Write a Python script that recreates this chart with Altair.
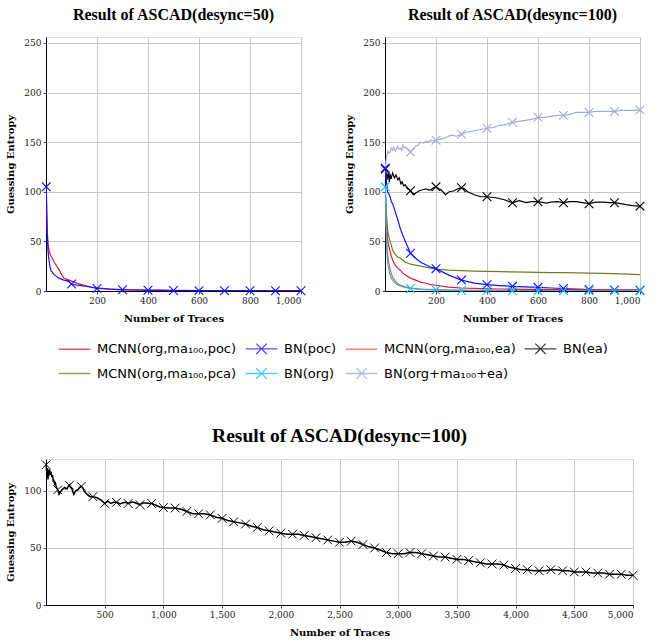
import json
import altair as alt
import pandas as pd

# ---- series names (legend order) ----
MCNN_POC = "MCNN(org,ma₁₀₀,poc)"
BN_POC = "BN(poc)"
MCNN_EA = "MCNN(org,ma₁₀₀,ea)"
BN_EA = "BN(ea)"
MCNN_PCA = "MCNN(org,ma₁₀₀,pca)"
BN_ORG = "BN(org)"
BN_ORG_MA_EA = "BN(org+ma₁₀₀+ea)"

SERIES = [MCNN_POC, BN_POC, MCNN_EA, BN_EA, MCNN_PCA, BN_ORG, BN_ORG_MA_EA]
COLORS = ["#dc1e3c", "#1414ff", "#ff5a36", "#000000", "#6b7f22", "#19b9ea", "#a3acd6"]
MARKED = [BN_POC, BN_EA, BN_ORG, BN_ORG_MA_EA]

# ---- common trace grid for the smooth curves ----
traces = [1, 3, 5, 8, 10, 15, 20, 25, 30, 40, 50, 60, 70, 80, 90, 100, 120, 140,
          160, 180, 200, 250, 300, 350, 400, 450, 500, 550, 600, 650, 700, 750,
          800, 850, 900, 950, 1000]

# ASCAD desync=50
d50_mcnn_poc = [105, 80, 60, 48, 44, 38, 35, 33, 30, 26, 22, 17, 13, 12, 11, 10, 8,
                6.5, 5, 4, 3.2, 2, 1.5, 1.2, 1, 0.8, 0.7, 0.6, 0.5, 0.5, 0.4, 0.4,
                0.3, 0.3, 0.3, 0.3, 0.3]
d50_bn_poc = [105, 75, 55, 40, 35, 25, 20, 19, 17, 15, 13, 12, 11, 10.5, 9.5, 7, 6,
              5.5, 4.5, 3.5, 2.5, 1.8, 1.2, 1, 0.7, 0.6, 0.5, 0.4, 0.4, 0.3, 0.3,
              0.3, 0.3, 0.2, 0.2, 0.2, 0.2]

# ASCAD desync=100
d100_mcnn_poc = [105, 90, 75, 60, 52, 45, 40, 35, 31, 26, 23, 21, 18, 16, 14.5, 13,
                 11, 9, 7.8, 6.5, 5.8, 4, 3, 2.6, 2.2, 2, 1.8, 1.7, 1.6, 1.5, 1.4,
                 1.3, 1.2, 1.2, 1.1, 1, 1]
d100_mcnn_pca = [105, 90, 80, 68, 62, 55, 50, 46, 41, 37, 34, 33, 31, 29, 28, 27, 26,
                 25, 24, 23, 22, 21, 20.5, 20, 19.7, 19.5, 19.2, 19, 18.8, 18.6,
                 18.5, 18.2, 18, 17.8, 17.5, 17, 16.5]
d100_mcnn_ea = [105, 85, 65, 45, 38, 28, 22, 17, 14, 10, 7.5, 6, 5, 4.3, 3.6, 3, 2.5,
                2, 1.7, 1.5, 1.3, 1, 0.8, 0.7, 0.6, 0.5, 0.5, 0.4, 0.4, 0.4, 0.3,
                0.3, 0.3, 0.3, 0.3, 0.3, 0.3]
d100_bn_org = [105, 80, 55, 38, 30, 22, 16, 13, 11, 8, 6, 5, 4, 3.5, 3, 2.5, 2, 1.6,
               1.3, 1.1, 1, 0.7, 0.5, 0.4, 0.4, 0.3, 0.3, 0.3, 0.3, 0.2, 0.2, 0.2,
               0.2, 0.2, 0.2, 0.2, 0.2]
d100_bn_poc = [124, 118, 112, 105, 100, 98, 95, 90, 88, 80, 72, 63, 56, 50, 44, 38,
               33, 29, 26.5, 24, 22.5, 16, 11, 8, 6.4, 5.5, 4.7, 4.2, 3.7, 3, 2.5,
               2, 1.5, 1.2, 1, 0.9, 0.8]

lav_x = [1, 4, 8, 12, 16, 20, 25, 30, 35, 40, 45, 50, 55, 60, 65, 70, 75, 80, 90,
         100, 110, 120, 130, 140, 150, 160, 170, 180, 190, 200, 220, 240, 260, 280,
         300, 320, 340, 360, 380, 400, 425, 450, 475, 500, 525, 550, 575, 600, 625,
         650, 675, 700, 725, 750, 775, 800, 825, 850, 875, 900, 925, 950, 975, 1000]
lav_y = [123, 132, 137, 141, 139, 140, 144, 142, 145, 141, 143, 146, 143, 144, 142,
         147, 144, 145, 143, 140, 143, 146, 147, 150, 149, 151, 150, 152, 151, 152,
         153, 155, 157, 156, 158, 160, 161, 162, 163, 164, 165, 167, 168, 170, 171,
         172, 173, 175, 175, 176, 177, 177, 178, 180, 180, 180, 181, 181, 181, 181,
         182, 182, 182, 182.5]

# BN(ea), desync=100, traced out to 5000 traces
ea_x = [1, 4, 8, 13, 17, 20, 24, 30, 37, 43, 50, 56, 62, 67, 73, 80, 88, 95, 100,
        111, 122, 135, 148, 160, 170, 180, 190, 200, 210, 220, 237, 252, 272, 285,
        300, 312, 324, 350, 376, 400, 435, 468, 500, 527, 553, 575, 600, 632, 650,
        675, 700, 725, 749, 775, 800, 827, 854, 880, 900, 925, 945, 970, 1000,
        1050, 1100, 1150, 1200, 1250, 1300, 1350, 1400, 1450, 1500, 1550, 1600,
        1650, 1700, 1750, 1800, 1850, 1900, 1950, 2000, 2050, 2100, 2150, 2200,
        2250, 2300, 2350, 2400, 2450, 2500, 2550, 2600, 2650, 2700, 2750, 2800,
        2850, 2900, 2950, 3000, 3050, 3100, 3150, 3200, 3250, 3300, 3350, 3400,
        3450, 3500, 3550, 3600, 3650, 3700, 3750, 3800, 3850, 3900, 3950, 4000,
        4050, 4100, 4150, 4200, 4250, 4300, 4350, 4400, 4450, 4500, 4550, 4600,
        4650, 4700, 4750, 4800, 4850, 4900, 4950, 5000]
ea_y = [123, 119, 112, 120, 110, 118, 113, 119, 114, 117, 112, 114, 108, 110, 106,
        107, 103, 102, 101, 97, 99, 101, 102, 103, 102, 102, 104, 105, 103, 102, 97,
        100, 101, 103, 104, 103, 100, 97, 95, 95, 94, 92, 89, 91, 89, 90, 90, 88.6,
        89.5, 90, 89, 90, 90, 89, 88, 89.5, 89.5, 89, 89, 88, 87, 86, 85.5,
        85, 85, 84, 82, 80, 80, 80, 79, 77, 76, 74, 73, 72, 71, 69, 68, 66, 65, 64,
        63, 62, 62, 62, 61, 60, 59, 58, 57, 56, 55, 55, 56, 55, 53, 51, 50, 48, 46,
        45, 45, 45, 46, 46, 45, 44, 43, 42, 42, 41, 40, 40, 39, 38, 37, 36, 36, 36,
        35, 33, 32, 31, 31, 30, 30, 30, 31, 31, 30, 30, 29, 29, 29, 28, 28, 28, 27,
        27, 27, 26, 26]


def frame(panel, name, xs, ys):
    return pd.DataFrame({"panel": panel, "series": name, "x": xs, "ge": ys})


df50 = pd.concat([
    frame("d50", MCNN_POC, traces, d50_mcnn_poc),
    frame("d50", BN_POC, traces, d50_bn_poc),
])
df100 = pd.concat([
    frame("d100", BN_ORG_MA_EA, lav_x, lav_y),
    frame("d100", BN_EA, [x for x in ea_x if x <= 1000], [y for x, y in zip(ea_x, ea_y) if x <= 1000]),
    frame("d100", MCNN_PCA, traces, d100_mcnn_pca),
    frame("d100", BN_POC, traces, d100_bn_poc),
    frame("d100", MCNN_POC, traces, d100_mcnn_poc),
    frame("d100", MCNN_EA, traces, d100_mcnn_ea),
    frame("d100", BN_ORG, traces, d100_bn_org),
])
df_long = frame("long", BN_EA, ea_x, ea_y)

# ---- styling helpers ----
SERIF = "DejaVu Serif"
TITLE_FONT = "Liberation Serif"
X_MARK = "M-1,-1L1,1M-1,1L1,-1"
LINE_SYM = "M-1,0L1,0"
LINE_X_SYM = "M-1,0L1,0M-0.33,-0.33L0.33,0.33M-0.33,0.33L0.33,-0.33"
MARK_FILTER = "datum.x == 1 || datum.x % 100 == 0"


def x_axis(values):
    return alt.Axis(values=values, format=",d", title="Number of Traces",
                    labelFont=SERIF, labelFontSize=9, labelColor="#222",
                    titleFont=SERIF, titleFontSize=10, titleFontWeight="bold",
                    titlePadding=8, gridColor="#c8c8c8", domainColor="black",
                    tickSize=3, tickColor="#444", labelPadding=2)


def y_axis(values):
    return alt.Axis(values=values, title="Guessing Entropy",
                    labelFont=SERIF, labelFontSize=9, labelColor="#222",
                    titleFont=SERIF, titleFontSize=10, titleFontWeight="bold",
                    titlePadding=8, gridColor="#c8c8c8", domainColor="black",
                    tickSize=3, tickColor="#444", labelPadding=2)


def panel(df, names, title, legend):
    scale = alt.Scale(domain=names, range=[COLORS[SERIES.index(n)] for n in names])
    xenc = alt.X("x:Q", scale=alt.Scale(domain=[0, 1000], nice=False),
                 axis=x_axis([200, 400, 600, 800, 1000]))
    yenc = alt.Y("ge:Q", scale=alt.Scale(domain=[0, 256], nice=False),
                 axis=y_axis([0, 50, 100, 150, 200, 250]))
    base = alt.Chart(df)
    lines = base.mark_line(strokeWidth=1.2, clip=True).encode(
        x=xenc, y=yenc, color=alt.Color("series:N", scale=scale, legend=legend),
        detail="series:N")
    marks = base.transform_filter(
        alt.FieldOneOfPredicate(field="series", oneOf=MARKED)
    ).transform_filter(MARK_FILTER).mark_point(
        shape=X_MARK, size=75, strokeWidth=1.1, filled=False, opacity=1, clip=False
    ).encode(x=xenc, y=yenc, color=alt.Color("series:N", scale=scale, legend=legend))
    return alt.layer(lines, marks).properties(
        width=255, height=254,
        title=alt.TitleParams(title, font=TITLE_FONT, fontSize=16,
                              fontWeight="bold", offset=14))


legend_expr = "indexof(%s, datum.value) >= 0 ? '%s' : '%s'" % (
    json.dumps(MARKED), LINE_X_SYM, LINE_SYM)

legend = alt.Legend(
    title=None, orient="none", legendX=-327, legendY=295, columns=4,
    direction="horizontal", gridAlign="each",
    symbolType=alt.ExprRef(expr=legend_expr), symbolSize=1000,
    symbolStrokeWidth=1.3, symbolFillColor="transparent", symbolOpacity=0.75,
    labelFont="DejaVu Sans", labelFontSize=13, labelColor="black",
    labelOffset=6, columnPadding=6, rowPadding=-12,
)

left = panel(df50, [MCNN_POC, BN_POC], "Result of ASCAD(desync=50)", None)
right = panel(df100, SERIES, "Result of ASCAD(desync=100)", legend)

top = alt.hconcat(left, right, spacing=84, bounds="flush").resolve_scale(color="independent")

# long-run view of BN(ea)
bx = alt.X("x:Q", scale=alt.Scale(domain=[0, 5000], nice=False),
           axis=x_axis([500, 1000, 1500, 2000, 2500, 3000, 3500, 4000, 4500, 5000]))
by = alt.Y("ge:Q", scale=alt.Scale(domain=[0, 128], nice=False),
           axis=y_axis([0, 50, 100]))
bbase = alt.Chart(df_long)
bline = bbase.mark_line(strokeWidth=1.5, color="black").encode(x=bx, y=by)
bmarks = bbase.transform_filter(MARK_FILTER).mark_point(
    shape=X_MARK, size=75, strokeWidth=1.0, filled=False, color="black", opacity=1
).encode(x=bx, y=by)
bottom = alt.layer(bline, bmarks).properties(
    width=587, height=146,
    title=alt.TitleParams("Result of ASCAD(desync=100)", font=TITLE_FONT,
                          fontSize=19.5, fontWeight="bold", offset=12))

chart = alt.vconcat(top, bottom, spacing=42).resolve_scale(color="independent").properties(
    padding={"left": 5, "top": 6, "right": 0, "bottom": 0}
).configure_view(stroke="black", strokeWidth=1).configure(background="white")

chart.save("out.html", embed_options={"renderer": "svg", "actions": False})
